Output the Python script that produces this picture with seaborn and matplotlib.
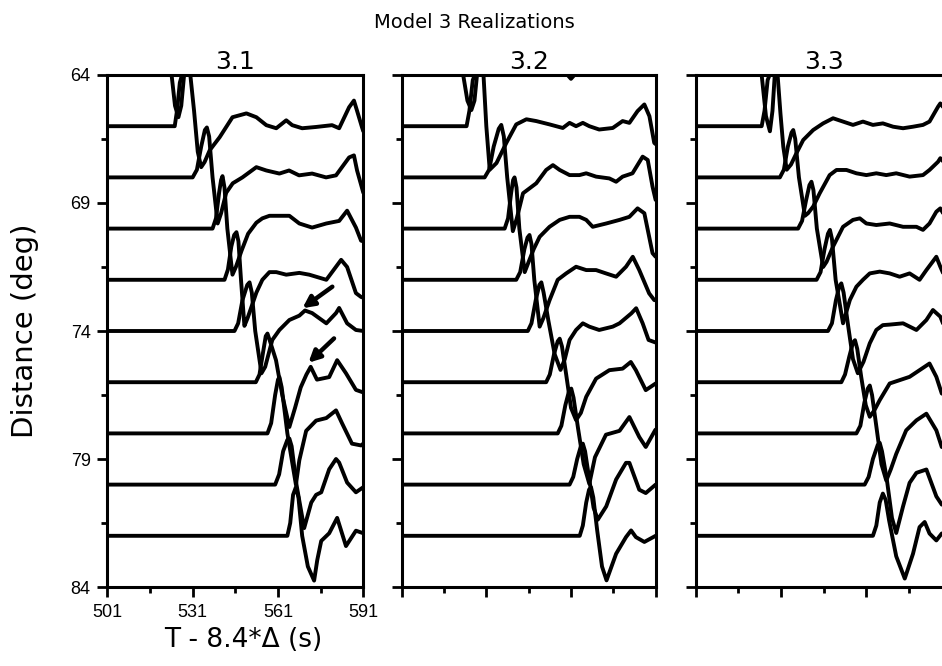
import pandas as pd
import matplotlib
matplotlib.use('Agg')
import matplotlib.pyplot as plt
import seaborn as sns

# Trace distances (deg) and realization names
distances = [64, 66, 68, 70, 72, 74, 76, 78, 80, 82]
realizations = ['3.1', '3.2', '3.3']

# ---- Realization 3.1: time (s) and amplitude (deg, up = positive) ----
t_31_64 = [501, 518, 519.5, 521, 522.3, 523.6, 524.8, 526, 527, 528, 530, 591]
a_31_64 = [0, 0, 0.4, 1.7, 1.8, 0, -1.2, -1.65, -1.2, 0, 0.5, 0.5]
t_31_66 = [501, 524.7, 525.5, 526.5, 528, 530, 531.5, 532.8, 534, 535.2, 537, 540.5, 545, 549.9, 553.4, 556.9, 560.4, 563.9, 566, 569.5, 574.4, 580, 582.5, 586, 587.7, 588.8, 590.5, 591]
a_31_66 = [0, 0, 0.6, 1.7, 2.3, 2.2, 0.6, -1.0, -1.6, -1.4, -0.94, -0.43, 0.35, 0.5, 0.35, 0.04, -0.08, 0.23, 0.04, -0.08, -0.03, 0.04, -0.08, 0.74, 1.0, 0.6, -0.03, -0.2]
t_31_68 = [501, 531, 532.5, 534, 535.3, 536, 536.8, 538, 539.8, 541, 542.8, 545.1, 548.5, 553.4, 556.9, 561.5, 564.9, 568.4, 573, 577.9, 581.4, 586, 587.7, 588.8, 591]
a_31_68 = [0, 0, 0.3, 1.2, 1.85, 1.95, 1.6, 0, -1.8, -1.4, -0.6, -0.23, 0, 0.4, 0.27, 0.15, 0.27, 0.08, 0.15, 0, 0.08, 0.78, 0.86, 0.27, -0.6]
t_31_70 = [501, 538, 539.2, 540.3, 541, 541.5, 542.2, 543.2, 545, 546.2, 548.2, 550.5, 553.4, 555.5, 558, 565, 568.5, 573, 578, 582.5, 585.3, 588.4, 590.2, 591]
a_31_70 = [0, 0, 0.4, 1.4, 1.9, 2.05, 1.6, 0, -1.8, -1.5, -0.86, -0.2, 0.23, 0.4, 0.5, 0.5, 0.2, 0.04, 0.2, 0.3, 0.7, 0.04, -0.47, -0.5]
t_31_72 = [501, 542.2, 543.4, 544.6, 545.6, 546.4, 547.1, 548, 549.2, 550.3, 553.4, 555.5, 558, 560.4, 563.9, 568.5, 572, 578, 583.2, 585.3, 588.4, 590.2, 591]
a_31_72 = [0, 0, 0.4, 1.3, 1.75, 1.86, 1.5, 0, -1.8, -1.5, -0.5, 0, 0.3, 0.3, 0.2, 0.27, 0.2, 0, 0.78, 0.5, -0.52, -0.67, -0.7]
t_31_74 = [501, 545.7, 547, 548.5, 550.2, 551, 551.8, 553, 555.2, 556.5, 559, 561.5, 565, 568.5, 570.5, 573, 578, 581.4, 582.5, 585.3, 588.4, 591]
a_31_74 = [0, 0, 0.3, 1.2, 1.8, 1.9, 1.5, 0, -1.65, -1.4, -0.35, 0.04, 0.43, 0.6, 0.8, 0.7, 0.3, 0.7, 0.9, 0.3, 0.04, 0]
t_31_76 = [501, 553.2, 554.5, 555.8, 556.7, 557.3, 558.2, 560.3, 562.5, 565, 567, 569, 571, 572.5, 574.7, 579, 581.8, 584.9, 588.4, 591]
a_31_76 = [0, 0, 0.3, 1.2, 1.8, 1.9, 1.6, 0.86, -0.5, -1.75, -1.0, -0.2, 0.3, 0.6, 0.1, 0.2, 0.86, 0.35, -0.3, -0.4]
t_31_78 = [501, 557.3, 558.6, 560, 561, 561.5, 562.3, 564.3, 567.3, 568.5, 570.9, 574.4, 578, 581.4, 583.5, 587, 590.2, 591]
a_31_78 = [0, 0, 0.4, 1.5, 2.1, 2.2, 1.8, 0, -2.0, -1.05, 0.1, 0.5, 0.6, 0.9, 0.4, -0.4, -0.47, -0.4]
t_31_80 = [501, 560, 561.4, 562.8, 564.3, 565, 565.8, 567.5, 570.2, 572.7, 574.4, 576.2, 579, 581.4, 582.5, 585.3, 588.4, 591]
a_31_80 = [0, 0, 0.4, 1.3, 1.75, 1.8, 1.5, 0, -1.7, -0.7, -0.4, -0.3, 0.6, 1.0, 0.86, 0.08, -0.3, -0.1]
t_31_82 = [501, 564.3, 565.3, 566.3, 567.3, 568.2, 569.5, 571.5, 573.7, 574.8, 576.2, 579, 581.8, 584.9, 588.4, 591]
a_31_82 = [0, 0, 0.5, 1.6, 1.9, 1.5, 0, -1.2, -1.75, -0.95, -0.2, 0.1, 0.7, -0.4, 0.2, 0.1]

# ---- Realization 3.2 ----
t_32_64 = [501, 518, 519.5, 521, 522, 522.8, 524.3, 525.7, 526.8, 527.7, 530, 558, 559.8, 561, 562.2, 564, 591]
a_32_64 = [0, 0, 0.4, 1.7, 1.8, 0, -1.0, -1.37, -1.0, 0, 0.4, 0.3, 0, -0.15, 0, 0.3, 0.4]
t_32_66 = [501, 524, 525, 526.2, 528, 530, 531, 532.2, 534.6, 538.1, 541.6, 545.2, 548.7, 553.4, 558.1, 560.5, 562.8, 565.2, 567.5, 571, 575.8, 579.3, 581.7, 584.6, 587, 588.8, 590.5, 591]
a_32_66 = [0, 0, 0.6, 1.8, 2.3, 2.0, 0, -1.7, -1.44, -0.65, 0.07, 0.27, 0.2, 0.07, -0.07, 0.13, 0, 0.13, 0, -0.13, -0.07, 0.2, 0.13, 0.59, 0.85, 0.39, -0.65, -0.7]
t_32_68 = [501, 530.4, 532, 533.6, 535.4, 536.3, 537.2, 538.4, 540.4, 541.8, 544, 548.7, 552.2, 554.6, 557, 560.5, 564, 566.4, 569.9, 574.6, 577, 579.3, 582.8, 586.4, 588.2, 589.9, 591]
a_32_68 = [0, 0, 0.3, 1.2, 1.9, 2.05, 1.6, 0, -2.1, -1.6, -0.62, -0.23, 0.29, 0.48, 0.29, 0.09, 0.09, 0.16, 0.03, -0.04, -0.17, 0.03, 0.16, 0.81, 0.68, -0.36, -0.88]
t_32_70 = [501, 537.5, 538.7, 539.8, 540.5, 541, 541.7, 542.7, 544.6, 546, 547.8, 549.9, 553.4, 557, 560.5, 564, 566.4, 568.7, 573.5, 578.2, 581.7, 584.6, 587, 589.9, 591]
a_32_70 = [0, 0, 0.4, 1.4, 1.9, 2.0, 1.6, 0, -1.7, -1.3, -0.8, -0.32, 0.07, 0.34, 0.46, 0.46, 0.34, 0.07, 0.2, 0.34, 0.46, 0.79, 0.6, -0.96, -1.1]
t_32_72 = [501, 541.6, 543, 544.5, 545.6, 546.3, 547, 548, 549.9, 551.2, 553.4, 556.3, 559.3, 562.8, 566.4, 569.9, 573.4, 577, 580.5, 582.9, 585.2, 588.7, 590.5, 591]
a_32_72 = [0, 0, 0.3, 1.2, 1.65, 1.75, 1.4, 0, -1.83, -1.5, -0.8, 0, 0.25, 0.51, 0.38, 0.38, 0.25, 0.12, 0.51, 0.9, 0.38, -0.53, -0.79, -0.8]
t_32_74 = [501, 545.7, 547, 548.5, 549.8, 550.5, 551.3, 553, 555.2, 557.3, 558.8, 560.5, 562.8, 565.2, 567.5, 571, 575.8, 578.2, 582.4, 584.1, 586.4, 588.5, 591]
a_32_74 = [0, 0, 0.3, 1.2, 1.8, 1.9, 1.5, 0.4, -0.9, -1.52, -1.1, -0.35, 0.04, 0.3, 0.17, 0.04, 0.17, 0.3, 0.69, 0.89, 0.3, -0.35, -0.45]
t_32_76 = [501, 552.2, 553.5, 555, 556.3, 557, 557.8, 559.3, 561, 562.8, 564.5, 566.4, 569.9, 574.6, 579.3, 582.2, 584, 587.5, 591]
a_32_76 = [0, 0, 0.3, 1.1, 1.6, 1.7, 1.4, 0.3, -1.0, -1.48, -1.2, -0.57, 0.14, 0.47, 0.53, 0.79, 0.47, -0.31, -0.05]
t_32_78 = [501, 556.3, 557.6, 559, 560.3, 561.1, 561.9, 563.5, 565.5, 567.5, 569.5, 573.4, 578.2, 581.7, 585.2, 587.5, 590.8, 591]
a_32_78 = [0, 0, 0.3, 1.1, 1.65, 1.75, 1.4, 0.2, -1.2, -1.97, -0.93, -0.05, 0.1, 0.64, -0.14, -0.53, 0.12, 0.15]
t_32_80 = [501, 560.5, 561.8, 563.2, 564.5, 565.2, 566, 567.5, 569, 570.5, 573.5, 577, 580.5, 581.7, 585.2, 587.5, 591]
a_32_80 = [0, 0, 0.3, 1.0, 1.5, 1.6, 1.3, 0.2, -0.9, -1.37, -0.85, 0.2, 0.85, 0.85, -0.2, -0.33, 0]
t_32_82 = [501, 564.1, 565.2, 566.4, 567.4, 568.1, 568.9, 570.3, 572, 573.6, 577, 580.5, 582.3, 584, 587, 591]
a_32_82 = [0, 0, 0.4, 1.3, 1.8, 1.9, 1.5, 0.2, -1.2, -1.74, -0.7, -0.05, 0.21, -0.05, -0.24, 0]

# ---- Realization 3.3 ----
t_33_64 = [501, 518.5, 520, 521.5, 523, 524.2, 525.7, 527.1, 528, 528.8, 531, 591]
a_33_64 = [0, 0, 0.4, 1.7, 1.6, 0, -1.6, -2.2, -1.4, 0, 0.4, 0.4]
t_33_66 = [501, 524.2, 525.2, 526.3, 528, 529.8, 530.8, 531.8, 533, 534.5, 536.4, 538.8, 542.3, 545.8, 549.3, 552.8, 556.3, 559.8, 563.3, 566.8, 570.4, 573.9, 577.4, 580.9, 583.2, 586.2, 587, 589, 591]
a_33_66 = [0, 0, 0.6, 1.8, 2.3, 2.0, 0.5, -0.8, -1.7, -1.5, -1.06, -0.54, -0.15, 0.11, 0.31, 0.18, 0.05, 0.18, 0.05, 0.11, -0.02, -0.08, -0.02, 0.05, 0.18, 0.76, 0.89, 0.6, 0]
t_33_68 = [501, 530.6, 532, 533.4, 534.7, 535.3, 536, 537.3, 539.4, 540.5, 542.3, 544.6, 548.1, 550.5, 554, 557.5, 561, 564.5, 568, 571.5, 576.2, 580.9, 583.2, 586.2, 587, 589, 591]
a_33_68 = [0, 0, 0.3, 1.2, 1.75, 1.85, 1.5, 0, -1.5, -1.4, -1.14, -0.62, 0.09, 0.29, 0.29, 0.16, 0.09, 0.16, 0.09, 0.16, 0.03, 0.09, 0.29, 0.61, 0.75, 0.5, 0]
t_33_70 = [501, 537, 538.4, 539.8, 541, 541.7, 542.4, 543.6, 545.8, 547, 549.3, 552.8, 556.3, 558.7, 561, 564.5, 569.2, 573.9, 578.6, 580.9, 583.2, 585.6, 587, 589, 591]
a_33_70 = [0, 0, 0.3, 1.1, 1.7, 1.83, 1.5, 0, -1.5, -1.3, -0.7, 0.07, 0.34, 0.4, 0.2, 0.14, 0.2, 0.07, 0.07, -0.05, 0.2, 0.66, 0.79, 0.4, 0]
t_33_72 = [501, 543.5, 544.9, 546.3, 547.5, 548.2, 548.9, 550.2, 552.8, 555.2, 557.5, 559.8, 562.2, 565.7, 569.2, 572.7, 576.2, 579.7, 582.1, 585.6, 587, 589, 591]
a_33_72 = [0, 0, 0.3, 1.2, 1.8, 1.95, 1.6, 0, -1.7, -0.79, -0.27, 0, 0.25, 0.32, 0.25, 0.12, 0.25, 0, 0.38, 0.9, 0.51, 0, -0.3]
t_33_74 = [501, 547.5, 548.9, 550.3, 551.5, 552.2, 553, 554.6, 556.3, 558, 560, 562.2, 564.5, 566.8, 569.2, 573.9, 578.6, 582.1, 584.4, 587, 589, 591]
a_33_74 = [0, 0, 0.3, 1.2, 1.75, 1.86, 1.5, 0.2, -1.1, -1.65, -1.2, -0.48, 0.04, 0.23, 0.25, 0.3, 0.04, 0.43, 0.82, 0.56, 0, -0.3]
t_33_76 = [501, 552.2, 553.5, 555, 556.3, 557, 557.8, 559.2, 560.8, 562.2, 563.8, 565.7, 569.2, 572.7, 576.2, 579.7, 583.2, 585.6, 587.5, 591]
a_33_76 = [0, 0, 0.3, 1.0, 1.55, 1.64, 1.3, 0.2, -0.9, -1.35, -1.1, -0.7, -0.05, 0.08, 0.21, 0.47, 0.73, 0.21, -0.44, -0.6]
t_33_78 = [501, 557.5, 558.9, 560.3, 561.5, 562.2, 563, 564.6, 566.3, 568, 569.6, 571.5, 575, 578.6, 582.1, 585.6, 587.5, 591]
a_33_78 = [0, 0, 0.3, 1.2, 1.75, 1.87, 1.5, 0.2, -1.2, -1.84, -1.4, -0.8, 0.12, 0.51, 0.77, 0.12, -0.53, -0.6]
t_33_80 = [501, 560.4, 561.8, 563.3, 565, 565.7, 566.5, 568.2, 570, 571.5, 573.9, 576.2, 578.6, 582.1, 585.6, 587.5, 591]
a_33_80 = [0, 0, 0.3, 1.0, 1.55, 1.63, 1.3, 0.2, -1.3, -1.89, -0.85, 0.07, 0.46, 0.59, -0.46, -0.78, -0.8]
t_33_82 = [501, 563.3, 564.5, 565.7, 566.8, 567.8, 569, 571.5, 574.5, 577.4, 579.7, 581.5, 583.2, 585.6, 587.5, 591]
a_33_82 = [0, 0, 0.4, 1.3, 1.65, 1.4, 0.6, -0.8, -1.67, -0.7, 0.34, 0.54, 0.09, -0.18, 0.09, 0.1]

# Arrows in realization 3.1 (tail -> head), in (time, distance)
arrow_tails = [(580.1, 72.27), (580.7, 74.29)]
arrow_heads = [(569.6, 73.11), (571.7, 75.24)]

xticks = [501, 531, 561, 591]
xminor = [516, 546, 576]
yticks = [64, 69, 74, 79, 84]
yminor = [66.5, 71.5, 76.5, 81.5]

# Build one long table from the traces
rows = []
g = globals()
for r in realizations:
    key = r.replace('.', '')
    for d in distances:
        part = pd.DataFrame({'t': g['t_%s_%d' % (key, d)], 'a': g['a_%s_%d' % (key, d)]})
        part['realization'] = r
        part['trace'] = d
        part['dist'] = d - part['a']
        rows.append(part)
data = pd.concat(rows, ignore_index=True)

sns.set_style('ticks')
plt.rcParams['font.family'] = ['Liberation Sans', 'DejaVu Sans']
plt.rcParams['text.color'] = 'black'
plt.rcParams['xtick.color'] = 'black'
plt.rcParams['ytick.color'] = 'black'
label_font = ['DejaVu Sans']

fig = plt.figure(figsize=(9.42, 6.66), dpi=100)
positions = [[0.1139, 0.1186, 0.2718, 0.7688],
             [0.4264, 0.1186, 0.2696, 0.7688],
             [0.7385, 0.1186, 0.2718, 0.7688]]

axes = []
for i, r in enumerate(realizations):
    ax = fig.add_axes(positions[i])
    sub = data[data['realization'] == r]
    sns.lineplot(data=sub, x='t', y='dist', units='trace', estimator=None, sort=False,
                 color='black', linewidth=2.8, ax=ax, legend=False)
    ax.set_xlim(501, 591)
    ax.set_ylim(84, 64)
    ax.set_xticks(xticks)
    ax.set_xticks(xminor, minor=True)
    ax.set_yticks(yticks)
    ax.set_yticks(yminor, minor=True)
    ax.tick_params(which='major', direction='out', length=7, width=2, labelsize=13, pad=5,
                   colors='black', labelcolor='black')
    ax.tick_params(which='minor', direction='out', length=4, width=2, colors='black')
    for s in ax.spines.values():
        s.set_linewidth(2.2)
        s.set_color('black')
    ax.set_xlabel('')
    ax.set_ylabel('')
    ax.set_title(r, fontsize=18, pad=4, family=label_font, color='black')
    if i > 0:
        ax.tick_params(labelleft=False, labelbottom=False)
    axes.append(ax)

for tail, head in zip(arrow_tails, arrow_heads):
    axes[0].annotate('', xy=head, xytext=tail,
                     arrowprops=dict(arrowstyle='-|>', color='black', lw=3.2,
                                     mutation_scale=17, shrinkA=0, shrinkB=0))

fig.text(0.504, 0.966, 'Model 3 Realizations', ha='center', va='center', fontsize=14,
         family=label_font, color='black')
fig.text(0.027, 0.503, 'Distance (deg)', ha='center', va='center', rotation=90, fontsize=21,
         family=label_font, color='black')
fig.text(0.258, 0.039, 'T - 8.4*\u0394 (s)', ha='center', va='center', fontsize=19,
         family=label_font, color='black')

fig.savefig('out.png', dpi=100)
